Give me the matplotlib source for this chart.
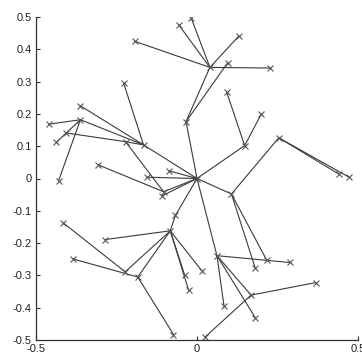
import matplotlib
matplotlib.use("Agg")
import matplotlib.pyplot as plt

# node coordinates
node_names = ["O", "B", "A", "a1", "a2", "a3", "a4", "a5", "b1",
              "C", "c1", "c2", "D", "R", "r1", "r2", "d1", "d2",
              "E", "e1", "e2", "e3", "F", "f1", "f2",
              "G", "g1", "g2", "I", "i1", "i2", "i3", "J", "H",
              "P", "Q", "p1", "o1", "o2",
              "k0", "K", "k1", "L", "l1", "M", "m1", "m2", "k2", "k3", "k4"]
node_x = [0.000, -0.034, 0.040, -0.018, -0.056, 0.129, 0.228, -0.194, 0.095,
          0.148, 0.092, 0.200, 0.107, 0.254, 0.440, 0.472, 0.181, 0.216,
          0.062, 0.288, 0.084, 0.181, 0.168, 0.370, 0.026,
          -0.166, -0.362, -0.228, -0.362, -0.461, -0.437, -0.430, -0.406, -0.222,
          -0.104, -0.109, -0.306, -0.155, -0.088,
          -0.067, -0.083, -0.285, -0.223, -0.416, -0.184, -0.385, -0.073, -0.038, -0.026, 0.016]
node_y = [0.000, 0.176, 0.344, 0.497, 0.475, 0.440, 0.342, 0.425, 0.358,
          0.102, 0.268, 0.200, -0.048, 0.126, 0.014, 0.004, -0.278, -0.252,
          -0.239, -0.260, -0.395, -0.431, -0.361, -0.322, -0.490,
          0.104, 0.225, 0.296, 0.182, 0.168, 0.112, -0.007, 0.141, 0.114,
          -0.041, -0.054, 0.042, 0.004, 0.024,
          -0.114, -0.162, -0.189, -0.289, -0.137, -0.305, -0.249, -0.483, -0.300, -0.346, -0.287]

edge_from = ["O", "B", "B", "A", "A", "A", "A", "A",
             "O", "C", "C",
             "O", "D", "R", "R", "D", "D",
             "O", "E", "E", "E", "E", "F", "F",
             "O", "G", "G", "G", "I", "I", "I", "J", "J", "H", "H",
             "O", "O", "P", "O", "O",
             "O", "k0", "K", "K", "L", "K", "M", "M", "K", "K", "K"]
edge_to = ["B", "A", "b1", "a1", "a2", "a3", "a4", "a5",
           "C", "c1", "c2",
           "D", "R", "r1", "r2", "d1", "d2",
           "E", "e1", "e2", "e3", "F", "f1", "f2",
           "G", "g1", "g2", "I", "i1", "i3", "J", "i2", "H", "G", "P",
           "P", "Q", "p1", "o1", "o2",
           "k0", "K", "k1", "L", "l1", "M", "m1", "m2", "k2", "k3", "k4"]

xticks = [-0.5, 0.0, 0.5]
xtick_labels = ["-0.5", "0", "0.5"]
yticks = [-0.5, -0.4, -0.3, -0.2, -0.1, 0.0, 0.1, 0.2, 0.3, 0.4, 0.5]
ytick_labels = ["-0.5", "-0.4", "-0.3", "-0.2", "-0.1", "0", "0.1", "0.2", "0.3", "0.4", "0.5"]

plt.rcParams['font.family'] = ['Liberation Sans', 'DejaVu Sans']

fig = plt.figure(figsize=(3.62, 3.56), dpi=100)
ax = fig.add_axes([36 / 362, 16 / 356, 322 / 362, 323 / 356])

idx = {n: i for i, n in enumerate(node_names)}
for a, b in zip(edge_from, edge_to):
    i, j = idx[a], idx[b]
    ax.plot([node_x[i], node_x[j]], [node_y[i], node_y[j]], '-',
            color='#3a3a3a', lw=0.8, solid_capstyle='round')
ax.plot(node_x, node_y, 'x', color='#555555', ms=4.5, mew=0.8, ls='none')

ax.set_xlim(-0.5, 0.5)
ax.set_ylim(-0.5, 0.5)
ax.set_xticks(xticks)
ax.set_xticklabels(xtick_labels)
ax.set_yticks(yticks)
ax.set_yticklabels(ytick_labels)
for s in ['top', 'right']:
    ax.spines[s].set_visible(False)
for s in ['left', 'bottom']:
    ax.spines[s].set_color('#303030')
    ax.spines[s].set_linewidth(0.9)
ax.tick_params(direction='in', length=3, width=0.8, colors='#303030',
               labelsize=8, labelcolor='#202020')
ax.tick_params(axis='y', pad=3)
ax.tick_params(axis='x', pad=3)

fig.savefig("out.png", dpi=100)
